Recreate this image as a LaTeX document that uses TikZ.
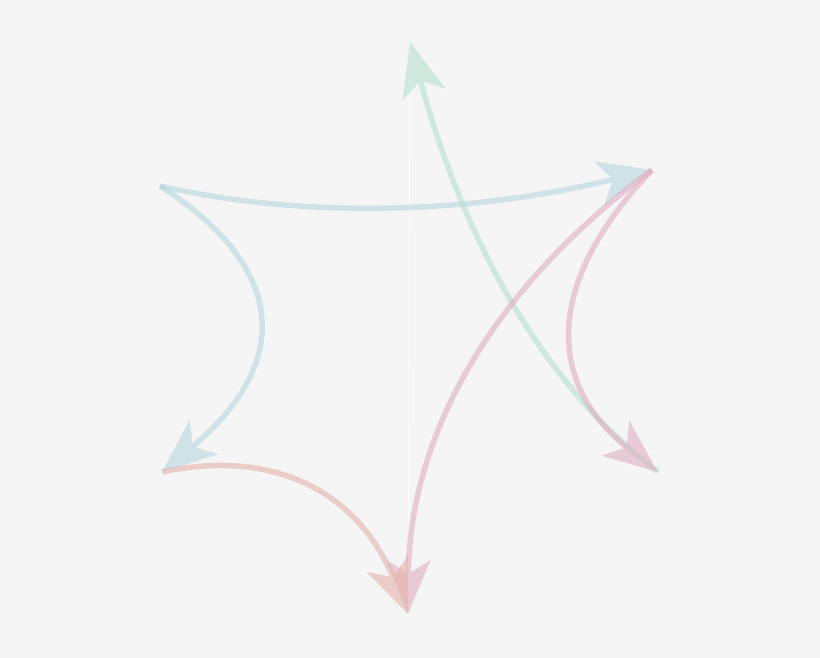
\documentclass[tikz,border=0pt]{standalone}
\usetikzlibrary{arrows.meta}
\definecolor{bg}{RGB}{245,245,245}
\definecolor{cblue}{RGB}{178,213,222}
\definecolor{cgreen}{RGB}{178,223,207}
\definecolor{cpink}{RGB}{224,172,192}
\definecolor{csalmon}{RGB}{227,177,170}
\tikzset{
  curve/.style={line width=5.5pt, -{Stealth[length=54pt,width=44pt,inset=14pt]}},
  faint/.style={draw=white, line width=0.8pt, opacity=0.8}
}
\begin{document}
\begin{tikzpicture}[x=1pt,y=-1pt]
\fill[bg] (0,0) rectangle (820,658);
\useasboundingbox (0,0) rectangle (820,658);
\coordinate (T) at (410,42);
\coordinate (UR) at (652,170);
\coordinate (LR) at (658,472);
\coordinate (B) at (408,614);
\coordinate (LL) at (162,472);
\coordinate (UL) at (160,186);
\draw[faint] (T) -- (B);
\begin{scope}[transparency group, opacity=0.58]
\draw[curve, cblue] (UL) .. controls (306.7,219.3) and (470.7,214) .. (UR);
\end{scope}
\begin{scope}[transparency group, opacity=0.58]
\draw[curve, cblue] (UL) .. controls (290,269.3) and (291,364.7) .. (LL);
\end{scope}
\begin{scope}[transparency group, opacity=0.58]
\draw[curve, cgreen] (LR) .. controls (547.3,388.7) and (464.7,245.3) .. (T);
\end{scope}
\begin{scope}[transparency group, opacity=0.58]
\draw[curve, cpink] (UR) .. controls (490.7,288.7) and (409.3,436.7) .. (B);
\end{scope}
\begin{scope}[transparency group, opacity=0.58]
\draw[curve, cpink] (UR) .. controls (544,282.7) and (546,383.3) .. (LR);
\end{scope}
\begin{scope}[transparency group, opacity=0.58]
\draw[curve, csalmon] (LL) .. controls (277.3,447.3) and (359.3,494.7) .. (B);
\end{scope}
\end{tikzpicture}
\end{document}
